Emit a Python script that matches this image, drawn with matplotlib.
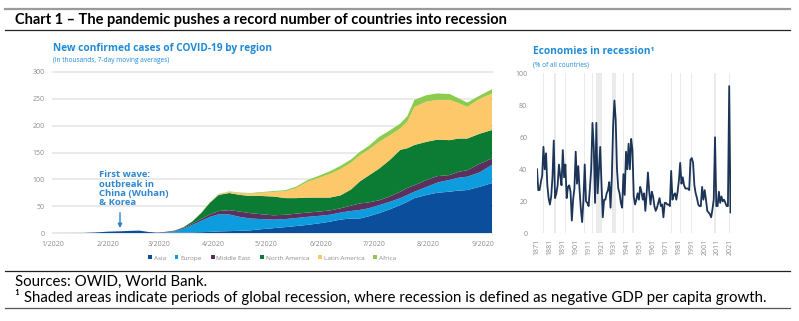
import matplotlib.pyplot as plt
from matplotlib.patches import Patch
from matplotlib.lines import Line2D
import numpy as np
import pandas as pd

W, H = 799, 321

# ---- left chart: new cases by region (thousands, 7-day avg) ----
dates = ["2020-01-01", "2020-01-18", "2020-01-25", "2020-02-01", "2020-02-08",
         "2020-02-14", "2020-02-19", "2020-02-24", "2020-02-29", "2020-03-05",
         "2020-03-10", "2020-03-15", "2020-03-20", "2020-03-25", "2020-03-30",
         "2020-04-04", "2020-04-10", "2020-04-16", "2020-04-22", "2020-04-28",
         "2020-05-05", "2020-05-12", "2020-05-18", "2020-05-24", "2020-05-31",
         "2020-06-06", "2020-06-12", "2020-06-18", "2020-06-23", "2020-06-28",
         "2020-07-04", "2020-07-10", "2020-07-16", "2020-07-20", "2020-07-24",
         "2020-07-31", "2020-08-06", "2020-08-13", "2020-08-18", "2020-08-23",
         "2020-08-30", "2020-09-06"]
asia = [0, 0.1, 1.0, 2.5, 3.2, 4.0, 4.5, 2.0, 0.6, 0.6, 0.7, 0.9, 1.0, 1.5, 2, 3,
        3.5, 4, 5, 7, 9, 11, 13, 15, 18, 21, 25, 27, 27, 31, 37, 44, 52, 58, 65,
        71, 75, 77, 79, 80, 86, 93]
europe = [0, 0, 0, 0, 0, 0, 0, 0, 0.1, 0.8, 2.5, 7, 14, 21, 28, 32, 31, 26, 22,
          19, 16, 15, 15, 15, 14, 13, 13, 14, 16, 15, 15, 14, 13, 13, 12, 15, 19,
          22, 24, 25, 27, 34]
mideast = [0, 0, 0, 0, 0, 0, 0, 0, 0.1, 0.8, 1.2, 1.8, 2.5, 3.5, 4.5, 6, 8, 10,
           10, 9, 8, 8, 8, 8, 8, 8, 8, 10, 12, 11, 9, 10, 12, 13, 12, 13, 12, 9,
           11, 12, 16, 12]
n_america = [0, 0, 0, 0, 0, 0, 0, 0, 0, 0.05, 0.2, 1, 4, 11, 22, 30, 32, 31, 32,
             34, 35, 31, 29, 28, 26, 24, 24, 30, 41, 50, 59, 68, 78, 74, 75, 71,
             68, 65, 62, 59, 56, 53]
l_america = [0, 0, 0, 0, 0, 0, 0, 0, 0, 0, 0, 0.1, 0.3, 0.6, 1, 1.5, 2.5, 3.5,
             4.5, 6, 8.5, 13, 19, 29, 37, 44, 49, 50, 49, 48, 50, 46, 40, 50, 71,
             75, 74, 75, 66, 59, 65, 68]
africa = [0, 0, 0, 0, 0, 0, 0, 0, 0, 0, 0, 0.05, 0.1, 0.2, 0.3, 0.4, 0.6, 0.8, 1,
          1.2, 1.5, 2, 2.5, 3, 4, 5, 6, 6, 6, 7, 9, 9, 9, 10, 13, 12, 12, 11, 9,
          8, 6, 8]
regions = ["Asia", "Europe", "Middle East", "North America", "Latin America", "Africa"]
reg_colors = ["#0b4f9c", "#0d9ddf", "#5b2f5e", "#0c7b33", "#fcc86a", "#8ccb4e"]
month_ticks = ["2020-%02d-01" % m for m in range(1, 10)]
month_labels = ["%d/2020" % m for m in range(1, 10)]

# ---- right chart: economies in recession (% of all countries) ----
years = np.arange(1871, 2022)
recession_pct = [
    40, 27, 27, 32, 36, 54, 40, 50, 30, 22,   # 1871-1880
    18, 23, 35, 58, 22, 25, 30, 43, 36, 30,   # 1881-1890
    52, 35, 43, 22, 29, 30, 26, 8, 21, 28,    # 1891-1900
    51, 31, 42, 27, 15, 7, 21, 43, 20, 19,    # 1901-1910
    17, 28, 40, 69, 54, 19, 69, 25, 40, 54,   # 1911-1920
    31, 10, 21, 21, 25, 27, 32, 16, 35, 67,   # 1921-1930
    83, 71, 40, 28, 25, 19, 16, 37, 24, 51,   # 1931-1940
    40, 56, 40, 59, 52, 23, 18, 21, 25, 21,   # 1941-1950
    29, 26, 21, 25, 14, 25, 38, 26, 18, 26,   # 1951-1960
    23, 17, 14, 16, 19, 22, 17, 18, 10, 19,   # 1961-1970
    19, 18, 18, 17, 39, 21, 24, 25, 21, 26,   # 1971-1980
    33, 44, 31, 35, 30, 28, 28, 28, 27, 46,   # 1981-1990
    47, 44, 30, 25, 22, 18, 17, 17, 29, 21,   # 1991-2000
    27, 21, 14, 13, 12, 10, 15, 21, 60, 17,   # 2001-2010
    17, 26, 19, 23, 20, 21, 19, 17, 17, 92,   # 2011-2020
    13]                                       # 2021
global_recessions = [1876, 1885, 1893, 1908, 1914, 1917, 1918, 1919, 1920, 1921,
                     1930, 1931, 1932, 1938, 1945, 1946, 1975, 1982, 1991, 2009, 2020]
year_ticks = list(range(1871, 2022, 10))

BLUE = "#1f8ad6"
GREY_TXT = "#8c8c8c"
FONT = "Open Sans"
HFONT = "Lato"

fig = plt.figure(figsize=(W / 100, H / 100), dpi=100)


def fx(x):
    return x / W


def fy(y):
    return 1 - y / H


# header and footer rules/text
fig.add_artist(Line2D([fx(5), fx(790)], [fy(9), fy(9)], color="#9a9a9a", lw=1.6))
fig.add_artist(Line2D([fx(5), fx(790)], [fy(29.5), fy(29.5)], color="#222222", lw=0.9))
fig.add_artist(Line2D([fx(5), fx(790)], [fy(271), fy(271)], color="#222222", lw=0.9))
fig.add_artist(Line2D([fx(5), fx(790)], [fy(308), fy(308)], color="#555555", lw=0.9))
fig.text(fx(15), fy(20), "Chart 1 \u2013 The pandemic pushes a record number of countries into recession",
         fontsize=10.5, fontweight="bold", family=HFONT, va="center", ha="left", color="black")
fig.text(fx(15), fy(282), "Sources: OWID, World Bank.", fontsize=10.8, family=HFONT,
         va="center", ha="left")
fig.text(fx(15), fy(297), "\u00b9 Shaded areas indicate periods of global recession, where recession "
         "is defined as negative GDP per capita growth.", fontsize=10.8, family=HFONT,
         va="center", ha="left")

# ---- left axes ----
ax = fig.add_axes([fx(53), fy(233), fx(492) - fx(53), fy(72) - fy(233)])
d = pd.to_datetime(dates)
ax.stackplot(d, asia, europe, mideast, n_america, l_america, africa,
             colors=reg_colors, linewidth=0)
ax.set_ylim(0, 300)
ax.set_xlim(pd.Timestamp("2020-01-01"), pd.Timestamp("2020-09-06"))
ax.set_yticks([0, 50, 100, 150, 200, 250, 300])
ax.yaxis.grid(True, color="#e8e8e8", lw=1.3)
ax.set_axisbelow(True)
ax.set_xticks(pd.to_datetime(month_ticks))
ax.set_xticklabels(month_labels)
for s in ax.spines.values():
    s.set_visible(False)
ax.tick_params(length=0, labelsize=5, labelcolor=GREY_TXT, pad=6)
for lab in ax.get_xticklabels() + ax.get_yticklabels():
    lab.set_family(FONT)
for gl in ax.get_ygridlines():
    gl.set_clip_on(False)

fig.text(fx(53), fy(49), "New confirmed cases of COVID-19 by region", fontsize=7.3,
         fontweight="bold", color=BLUE, family=FONT, va="center")
fig.text(fx(53), fy(61), "(in thousands, 7-day moving averages)", fontsize=4.7,
         color=BLUE, family=FONT, va="center")

ax.annotate("", xy=(pd.Timestamp("2020-02-08"), 4), xytext=(pd.Timestamp("2020-02-08"), 43),
            arrowprops=dict(arrowstyle="-|>", color="#2f7fc6", lw=1.0, mutation_scale=6))
ax.text(pd.Timestamp("2020-01-27"), 48, "First wave:\noutbreak in\nChina (Wuhan)\n& Korea",
        fontsize=6.8, fontweight="bold", color="#2f86cf", family=FONT, va="bottom",
        linespacing=1.05)

handles = [Patch(facecolor=c, edgecolor="none", label=r) for r, c in zip(regions, reg_colors)]
leg = fig.legend(handles=handles, loc="center", bbox_to_anchor=(fx(272), fy(258)), ncol=6,
                 frameon=False, fontsize=4.6, handlelength=0.6, handleheight=0.6,
                 handletextpad=0.3, columnspacing=1.4)
for t in leg.get_texts():
    t.set_color(GREY_TXT)
    t.set_family(FONT)

# ---- right axes ----
ax2 = fig.add_axes([fx(537), fy(233.3), fx(730.5) - fx(537), fy(73.3) - fy(233.3)])
for yr in global_recessions:
    ax2.axvspan(yr - 0.5, yr + 0.5, color="#ebebeb", lw=0)
ax2.plot(years, recession_pct, color="#1b3457", lw=1.3)
ax2.set_xlim(1871, 2021)
ax2.set_ylim(0, 100)
ax2.set_yticks([0, 20, 40, 60, 80, 100])
ax2.set_xticks(year_ticks)
ax2.set_xticklabels([str(y) for y in year_ticks], rotation=90)
for s in ax2.spines.values():
    s.set_visible(False)
ax2.tick_params(length=0, labelsize=5, labelcolor=GREY_TXT)
ax2.tick_params(axis="y", pad=7)
ax2.tick_params(axis="x", pad=4)
for lab in ax2.get_xticklabels() + ax2.get_yticklabels():
    lab.set_family(FONT)

fig.text(fx(533), fy(52), "Economies in recession\u00b9", fontsize=7.3, fontweight="bold",
         color=BLUE, family=FONT, va="center")
fig.text(fx(533), fy(65), "(% of all countries)", fontsize=4.7, color=BLUE, family=FONT,
         va="center")

fig.savefig("out.png", dpi=100)
